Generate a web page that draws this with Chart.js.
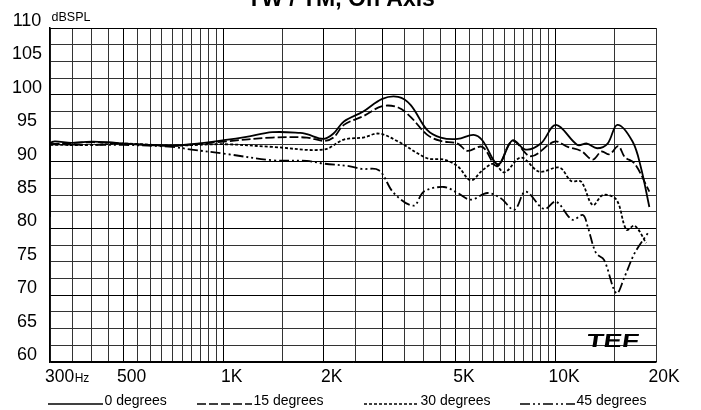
<!DOCTYPE html>
<html><head><meta charset="utf-8">
<script src="https://cdn.jsdelivr.net/npm/chart.js@4.4.1/dist/chart.umd.min.js"></script>
<style>html,body{margin:0;padding:0;background:#fff;}canvas{display:block;}</style>
</head><body>
<canvas id="c" width="701" height="410"></canvas>
<script>
// ---- data ----
const chartTitle = 'TW / TM, On Axis';
const yUnit = 'dBSPL';
const gridFreqs = [300,350,400,450,500,550,600,650,700,750,800,850,900,950,1000,1500,2000,2500,3000,3500,4000,4500,5000,5500,6000,6500,7000,7500,8000,8500,9000,9500,10000,15000,20000];
const xTickValues = [300,500,1000,2000,5000,10000,20000];
const xTickLabels = ['300','500','1K','2K','5K','10K','20K'];
const seriesNames = ['0 degrees','15 degrees','30 degrees','45 degrees'];

const freq0 = [300,300,350,400,450,500,600,700,800,1000,1170,1400,1700,1780,2000,2140,2300,2630,3000,3350,3650,4100,4500,5060,5650,6000,6700,7400,8100,9000,10000,11600,12400,13300,14300,15300,17000,18000,19100];
const spl0  = [81.7,92.6,92.8,93.0,92.9,92.7,92.5,92.4,92.6,93.2,93.7,94.4,94.3,94.1,93.4,94.2,96.0,97.5,99.4,99.7,98.5,94.7,93.6,93.4,94.0,93.2,89.6,93.2,91.8,92.7,95.5,92.5,92.7,92.0,92.7,95.5,93.0,89.2,83.2];

const freq15 = [300,400,500,700,1000,1400,1780,2000,2140,2300,2630,3000,3350,3650,4100,4500,5060,5410,6000,6650,7400,8400,9900,10850,11900,12900,13700,14500,15400,16100,17250,19100];
const spl15  = [92.6,92.9,92.7,92.4,93.0,93.6,93.6,93.1,93.6,95.5,96.8,98.3,98.1,96.7,94.0,93.1,92.7,91.6,92.2,89.3,93.1,90.8,93.0,92.2,91.6,90.3,91.5,91.1,92.3,90.7,89.7,85.5];

const freq30 = [300,400,500,700,1000,1400,2000,2300,2630,2930,3350,4100,4600,5060,5540,6010,6510,7000,7850,8900,10250,11100,11900,12900,13850,15200,16300,17250,18700];
const spl30  = [92.5,92.5,92.7,92.4,92.6,92.2,91.8,93.3,93.6,94.2,93.0,90.5,90.3,89.3,87.2,88.7,89.7,88.4,90.6,88.5,89.1,87.1,87.0,83.5,85.0,84.3,79.8,80.4,77.8];

const freq45 = [300,400,500,700,800,1000,1400,1780,2000,2400,2600,2930,3250,3730,4000,4600,5060,5540,6220,6820,7500,8100,9200,10000,11200,12050,12450,13200,13950,15200,16100,17250,18900];
const spl45  = [92.6,92.5,92.5,92.2,91.8,91.2,90.2,90.1,89.7,89.3,88.9,88.7,85.3,83.4,85.5,86.2,85.3,84.3,85.3,84.5,82.8,85.5,82.9,84.0,81.3,82.0,80.3,76.3,75.3,70.3,72.8,76.3,79.3];

// ---- styles ----
const FONT = '"Liberation Sans", Arial, sans-serif';
const dashes = [[], [9,3], [3,2], [10,3,2,3,2,3]];
const boldFreqs = [500,1000,2000,3000,5000,10000];
const pts = (f, s) => f.map((v, i) => ({x: v, y: s[i]}));

const mkDs = (i, f, s) => ({
  label: seriesNames[i], data: pts(f, s),
  borderColor: '#000', borderWidth: 1.8, borderDash: dashes[i],
  pointRadius: 0, tension: 0.35, fill: false
});

const bgPlugin = {
  id: 'bg',
  beforeDraw(chart) {
    const c = chart.ctx; c.save(); c.fillStyle = '#fff';
    c.fillRect(0, 0, chart.width, chart.height); c.restore();
  }
};

const textPlugin = {
  id: 'texts',
  afterDraw(chart) {
    const c = chart.ctx, xs = chart.scales.x, area = chart.chartArea;
    c.save();
    c.fillStyle = '#000';
    // title (mostly clipped at top)
    c.font = 'bold 23px ' + FONT; c.textAlign = 'center'; c.textBaseline = 'alphabetic';
    c.fillText(chartTitle, 341, 6);
    // unit
    c.font = '12.5px ' + FONT; c.textAlign = 'left';
    c.fillText(yUnit, area.left + 1.5, 21);
    // x tick labels
    const yb = 382;
    xTickValues.forEach((v, i) => {
      const px = xs.getPixelForValue(v);
      c.font = '17.5px ' + FONT;
      if (i === 0) {
        c.textAlign = 'left';
        c.fillText(xTickLabels[i], px - 5, yb);
        const w = c.measureText(xTickLabels[i]).width;
        c.font = '12px ' + FONT;
        c.fillText('Hz', px - 5 + w + 0.5, yb);
      } else {
        c.textAlign = 'center';
        c.fillText(xTickLabels[i], px + 8, yb);
      }
    });
    // legend
    const ly = 404;
    const legendX = [48, 197, 364, 520];
    const sampleLen = 55;
    c.font = '14px ' + FONT; c.textAlign = 'left';
    legendX.forEach((lx, i) => {
      c.beginPath(); c.setLineDash(dashes[i]); c.lineWidth = 1.5; c.strokeStyle = '#000';
      c.moveTo(lx, ly); c.lineTo(lx + sampleLen, ly); c.stroke();
      c.setLineDash([]);
      c.fillText(seriesNames[i], lx + sampleLen + 1.5, ly + 0.5);
    });
    // TEF logo
    c.save();
    c.translate(586, 347);
    c.transform(1.45, 0, -0.15, 1, 0, 0);
    c.font = 'bold 19px ' + FONT;
    c.fillText('TEF', 0, 0);
    c.restore();
    c.restore();
  }
};

new Chart(document.getElementById('c'), {
  type: 'line',
  data: { datasets: [mkDs(0, freq0, spl0), mkDs(1, freq15, spl15), mkDs(2, freq30, spl30), mkDs(3, freq45, spl45)] },
  options: {
    responsive: false, animation: false, devicePixelRatio: 1,
    layout: { padding: { left: 0, right: 45, top: 28, bottom: 0 } },
    plugins: { legend: { display: false }, title: { display: false }, tooltip: { enabled: false } },
    scales: {
      x: {
        type: 'logarithmic', min: 300, max: 20000, position: 'bottom',
        afterBuildTicks: s => { s.ticks = gridFreqs.map(v => ({ value: v })); },
        ticks: { display: false },
        grid: {
          drawTicks: false, lineWidth: 1,
          color: ctx => (ctx.tick && boldFreqs.includes(ctx.tick.value)) ? '#000' : '#333'
        },
        border: { display: true, color: '#000', width: 1.5 },
        afterFit: s => { s.height = 48; }
      },
      y: {
        type: 'linear', min: 60, max: 110, position: 'left',
        ticks: {
          stepSize: 2.5, autoSkip: false, crossAlign: 'center', padding: 8, labelOffset: -7,
          color: '#000', font: { family: FONT, size: 18 },
          callback: v => (v % 5 === 0 ? String(v) : '')
        },
        grid: {
          drawTicks: false, lineWidth: 1,
          color: ctx => (ctx.tick && ctx.tick.value % 10 === 0) ? '#000' : '#333'
        },
        border: { display: true, color: '#000', width: 1.5 },
        afterFit: s => { s.width = 50; }
      }
    }
  },
  plugins: [bgPlugin, textPlugin]
});
</script>
</body></html>
